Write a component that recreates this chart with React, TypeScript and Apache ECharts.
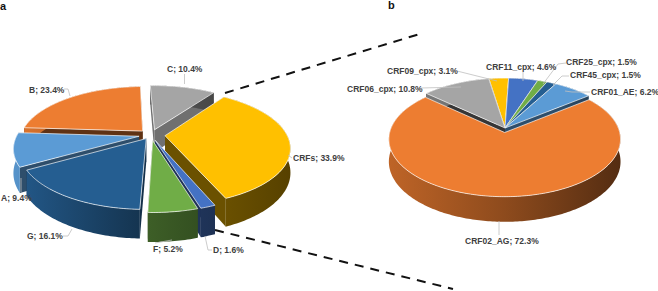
import React, { useEffect, useRef } from "react";
import * as echarts from "echarts";

const W = 658, H = 291;

// Panel a
const namesA = ["CRFs", "D", "F", "G", "A", "B", "C"];
const valuesA = [33.9, 1.6, 5.2, 16.1, 9.4, 23.4, 10.4];
const colorsA = ["#FFC000", "#4472C4", "#70AD47", "#255E91", "#5B9BD5", "#ED7D31", "#A5A5A5"];
const explodeA = [0.115, 0.1, 0.1, 0.075, 0.1, 0.1, 0.1];
const sideShadeA = [0.42, 0.45, 0.42, 0.5, 0.5, 0.4, 0.68];

// Panel b
const namesB = ["CRF06_cpx", "CRF09_cpx", "CRF11_cpx", "CRF25_cpx", "CRF45_cpx", "CRF01_AE", "CRF02_AG"];
const valuesB = [10.8, 3.1, 4.6, 1.5, 1.5, 6.2, 72.3];
const colorsB = ["#A5A5A5", "#FFC000", "#4472C4", "#70AD47", "#255E91", "#5B9BD5", "#ED7D31"];
const explodeB = [0, 0, 0, 0, 0, 0, 0.08];
const sideShadeB = [0.33, 0.45, 0.45, 0.45, 0.45, 0.5, 0.4];

const pieA = { cx: 151, cy: 135, R: 122, Ry: 55, k: 0.2, D: 23, start: 35.4, x0: 15, x1: 290,
  shade: [[0, 0.95], [0.45, 0.56], [0.75, 0.42], [1, 0.34]] };
const pieB = { cx: 505, cy: 128, R: 114, Ry: 55.7, k: 0.115, D: 22, start: -48, x0: 389, x1: 619,
  shade: [[0, 0.8], [0.5, 0.6], [1, 0.36]] };

// Label anchors: [text start x, middle y] and leader polyline
const leadersA: number[][][] = [
  [[288, 155], [292, 158]],
  [[212, 250], [208, 250], [205, 236]],
  [[155, 243], [172, 240]],
  [[63, 236], [68, 236], [72, 229]],
  [[21, 178], [21, 192]],
  [[64, 89], [68, 89], [70, 96]],
  [[184.5, 74], [184.5, 84]],
];
const labelPosA = [[293, 158], [213, 250], [153, 249], [27, 236], [1, 198], [29, 90], [167, 69]];
const leadersB: number[][][] = [
  [[421, 88], [461, 87]],
  [[457, 71], [497, 81]],
  [[523, 72], [523, 81]],
  [[566, 63], [558, 64], [543, 84]],
  [[569, 76], [562, 76], [553, 85]],
  [[590, 92], [572, 92], [565, 91]],
  [[499, 221], [499, 235]],
];
const labelPosB = [[347, 89], [387, 71], [486, 67], [566, 62], [570, 75], [591, 92], [465, 241]];

const dashLines = [
  [225, 93, 423, 33],
  [215, 230, 453, 289],
];

const LABEL_FONT = "bold 8.5px 'Liberation Sans', Arial, sans-serif";

type Pie = typeof pieA;

function shadeColor(hex: string, f: number) {
  const n = parseInt(hex.slice(1), 16);
  const c = [(n >> 16) & 255, (n >> 8) & 255, n & 255].map((v) => Math.round(v * f));
  return `rgb(${c[0]},${c[1]},${c[2]})`;
}

function buildSlices(values: number[], colors: string[], explode: number[], side: number[], pie: Pie) {
  let a = pie.start;
  const out = values.map((v, i) => {
    const s = a;
    const e = a + (v / 100) * 360;
    a = e;
    const mid = (((s + e) / 2) * Math.PI) / 180;
    return { s, e, mid, color: colors[i], ex: explode[i], side: side[i], pie, order: explode[i] === 0 ? -Math.cos(mid) - 2 : -Math.cos(mid) };
  });
  return out.sort((p, q) => p.order - q.order);
}

type Slice = ReturnType<typeof buildSlices>[number];

function project(sl: Slice, r: number, deg: number, low: boolean): number[] {
  const p = sl.pie;
  const t = (deg * Math.PI) / 180;
  const u = sl.ex * Math.sin(sl.mid) + r * Math.sin(t);
  const v = -sl.ex * Math.cos(sl.mid) - r * Math.cos(t);
  const w = 1 / (1 - p.k * v);
  return [p.cx + p.R * u * w, p.cy + p.Ry * v * w + (low ? p.D * w : 0)];
}

function arc(sl: Slice, low: boolean) {
  const pts: number[][] = [];
  const n = Math.max(2, Math.ceil(sl.e - sl.s));
  for (let i = 0; i <= n; i++) pts.push(project(sl, 1, sl.s + ((sl.e - sl.s) * i) / n, low));
  return pts;
}

function renderSlice(sl: Slice) {
  const p = sl.pie;
  const topArc = arc(sl, false);
  const lowArc = arc(sl, true);
  const apex = project(sl, 0, 0, false);
  const apexLow = project(sl, 0, 0, true);
  const sideFill = shadeColor(sl.color, sl.side);
  const wall = (deg: number) => ({
    type: "polygon",
    shape: { points: [apex, project(sl, 1, deg, false), project(sl, 1, deg, true), apexLow] },
    style: { fill: sideFill },
  });
  const grad = new echarts.graphic.LinearGradient(
    p.x0, 0, p.x1, 0,
    p.shade.map(([offset, f]) => ({ offset, color: shadeColor(sl.color, f) })),
    true
  );
  return {
    type: "group",
    children: [
      wall(sl.s),
      wall(sl.e),
      { type: "polygon", shape: { points: [...topArc, ...lowArc.slice().reverse()] }, style: { fill: grad } },
      {
        type: "polygon",
        shape: { points: [apex, ...topArc] },
        style: { fill: sl.color, stroke: "rgba(255,255,255,0.85)", lineWidth: 0.8 },
      },
    ],
  };
}

function pieSeries(slices: Slice[]) {
  return {
    type: "custom",
    coordinateSystem: "none",
    silent: true,
    z: 2,
    data: slices.map((_, i) => i),
    renderItem: (params: any) => renderSlice(slices[params.dataIndex]),
  };
}

function labelGraphics(names: string[], values: number[], pos: number[][], leaders: number[][][]) {
  const out: any[] = [];
  names.forEach((name, i) => {
    out.push({
      type: "polyline",
      silent: true,
      z: 10,
      shape: { points: leaders[i] },
      style: { stroke: "#BFBFBF", lineWidth: 0.8, fill: "none" },
    });
    out.push({
      type: "text",
      silent: true,
      z: 11,
      x: pos[i][0],
      y: pos[i][1],
      style: {
        text: `${name}; ${values[i]}%`,
        fill: "#404040",
        font: LABEL_FONT,
        textAlign: "left",
        textVerticalAlign: "middle",
      },
    });
  });
  return out;
}

export default function App() {
  const ref = useRef<HTMLDivElement>(null);
  useEffect(() => {
    document.body.style.margin = "0";
    const chart = echarts.init(ref.current!, null, { renderer: "svg" });
    const slicesA = buildSlices(valuesA, colorsA, explodeA, sideShadeA, pieA);
    const slicesB = buildSlices(valuesB, colorsB, explodeB, sideShadeB, pieB);
    chart.setOption({
      animation: false,
      backgroundColor: "#ffffff",
      series: [pieSeries(slicesA), pieSeries(slicesB)],
      graphic: [
        ...dashLines.map((d) => ({
          type: "line",
          silent: true,
          z: 0,
          shape: { x1: d[0], y1: d[1], x2: d[2], y2: d[3] },
          style: { stroke: "#111111", lineWidth: 2, lineDash: [9, 7] },
        })),
        ...labelGraphics(namesA, valuesA, labelPosA, leadersA),
        ...labelGraphics(namesB, valuesB, labelPosB, leadersB),
        { type: "text", silent: true, z: 11, x: 0, y: 6, style: { text: "a", fill: "#111", font: "bold 11px 'Liberation Sans', Arial, sans-serif", textVerticalAlign: "middle" } },
        { type: "text", silent: true, z: 11, x: 388, y: 5, style: { text: "b", fill: "#111", font: "bold 11px 'Liberation Sans', Arial, sans-serif", textVerticalAlign: "middle" } },
      ],
    });
    return () => chart.dispose();
  }, []);
  return <div ref={ref} style={{ width: W, height: H }} />;
}
